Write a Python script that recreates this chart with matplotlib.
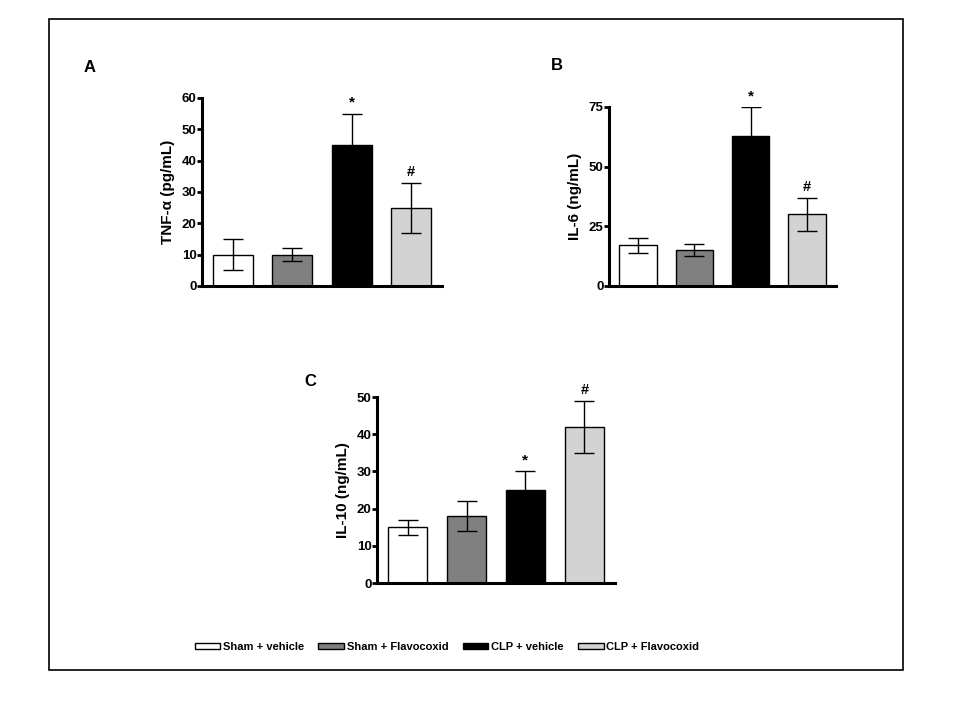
#!/usr/bin/env python3

import numpy as np
import matplotlib
matplotlib.use('Agg')
import matplotlib.pyplot as plt
from matplotlib.patches import Rectangle, Patch

plt.rcParams['font.family'] = ['Liberation Sans', 'DejaVu Sans']
plt.rcParams['font.weight'] = 'bold'

# Groups and colours
groups = ['Sham + vehicle', 'Sham + Flavocoxid', 'CLP + vehicle', 'CLP + Flavocoxid']
colors = ['white', '#808080', 'black', '#d3d3d3']

# Panel A: TNF-alpha (pg/mL)
tnf_mean = [10, 10, 45, 25]
tnf_err = [5, 2, 10, 8]
tnf_marks = ['', '', '*', '#']

# Panel B: IL-6 (ng/mL)
il6_mean = [17, 15, 63, 30]
il6_err = [3, 2.5, 12, 7]
il6_marks = ['', '', '*', '#']

# Panel C: IL-10 (ng/mL)
il10_mean = [15, 18, 25, 42]
il10_err = [2, 4, 5, 7]
il10_marks = ['', '', '*', '#']

W, H = 960, 720
fig = plt.figure(figsize=(9.6, 7.2), dpi=100)

# outer frame
fig.patches.append(Rectangle((49 / W, 1 - 670 / H), (903 - 49) / W, (670 - 19) / H,
                             transform=fig.transFigure, fill=False,
                             edgecolor='black', linewidth=1.2))


def px_axes(x0, x1, ytop, ybot):
    return fig.add_axes([x0 / W, 1 - ybot / H, (x1 - x0) / W, (ybot - ytop) / H])


def panel(ax, means, errs, marks, ymax, yticks, ylabel):
    x = np.arange(len(means))
    ax.bar(x, means, width=0.67, color=colors, edgecolor='black', linewidth=1.0, zorder=2)
    ax.errorbar(x, means, yerr=errs, fmt='none', ecolor='black', elinewidth=1.0,
                capsize=7, capthick=1.0, zorder=3)
    for xi, m, e, s in zip(x, means, errs, marks):
        if s:
            ax.text(xi, m + e + ymax * 0.02, s, ha='center', va='bottom',
                    fontsize=11 if s == '*' else 10.5, fontweight='bold')
    ax.set_xlim(-0.52, 3.52)
    ax.set_ylim(0, ymax)
    ax.set_yticks(yticks)
    ax.set_xticks([])
    for side in ['top', 'right']:
        ax.spines[side].set_visible(False)
    for side in ['left', 'bottom']:
        ax.spines[side].set_linewidth(2.2)
    ax.tick_params(axis='y', direction='out', length=3.5, width=2, labelsize=9.5, pad=0.5)
    for lab in ax.get_yticklabels():
        lab.set_fontweight('bold')
    ax.set_ylabel(ylabel, fontsize=11, fontweight='bold', labelpad=5)
    ax.patch.set_alpha(0)


axA = px_axes(202, 442, 98, 286)
panel(axA, tnf_mean, tnf_err, tnf_marks, 60, [0, 10, 20, 30, 40, 50, 60], 'TNF-α (pg/mL)')

axB = px_axes(609, 836, 107, 286)
panel(axB, il6_mean, il6_err, il6_marks, 75, [0, 25, 50, 75], 'IL-6 (ng/mL)')

axC = px_axes(377, 615, 397, 583)
panel(axC, il10_mean, il10_err, il10_marks, 50, [0, 10, 20, 30, 40, 50], 'IL-10 (ng/mL)')

# panel letters
fig.text(90 / W, 1 - 68 / H, 'A', fontsize=12, fontweight='bold', ha='center', va='center')
fig.text(557 / W, 1 - 66 / H, 'B', fontsize=12, fontweight='bold', ha='center', va='center')
fig.text(310 / W, 1 - 381 / H, 'C', fontsize=12, fontweight='bold', ha='center', va='center')

handles = [Patch(facecolor=c, edgecolor='black', linewidth=1.0) for c in colors]
fig.legend(handles, groups, loc='center', bbox_to_anchor=(447 / W, 1 - 647 / H), ncol=4,
           frameon=False, handlelength=2.3, handleheight=0.45,
           handletextpad=0.25, columnspacing=1.3, prop={'weight': 'bold', 'size': 8})

fig.savefig('out.png', dpi=100)
